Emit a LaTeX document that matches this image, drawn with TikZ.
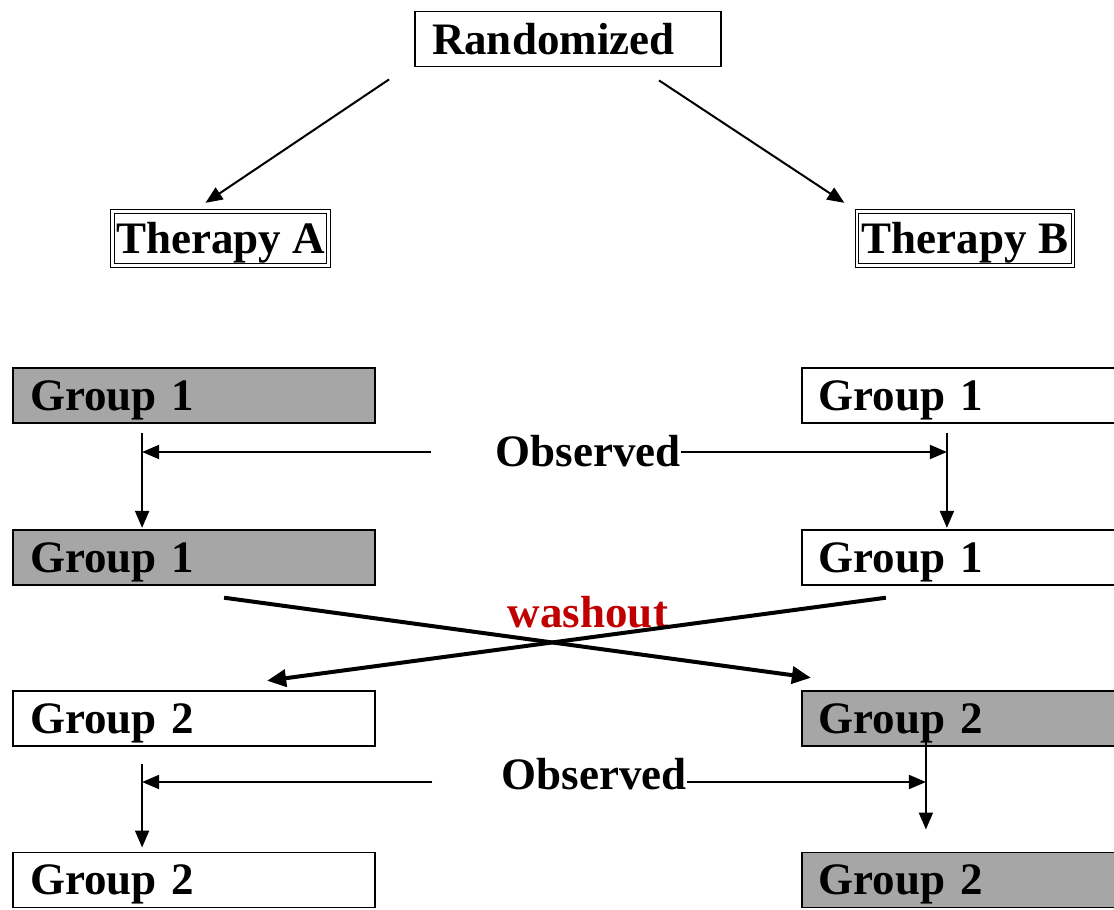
\documentclass[tikz,border=0pt]{standalone}
\usepackage{fontspec}
\setmainfont{Liberation Serif}
\usepackage{tikz}
\usetikzlibrary{arrows.meta,positioning,calc}
\definecolor{xoshade}{HTML}{A6A6A6}
\definecolor{xored}{HTML}{C00000}
\newcommand{\xofont}{\fontsize{45}{50}\selectfont\bfseries}
\tikzset{
  box/.style     = {rectangle, draw, line width=1.8pt, align=left, text width=328pt,
                    inner xsep=17pt, inner ysep=0pt, minimum height=55pt,
                    text height=38pt, text depth=8pt, font=\xofont},
  shaded/.style  = {box, fill=xoshade},
  plain/.style   = {box, fill=white},
  therapy/.style = {rectangle, draw, line width=1.3pt, double, double distance=2.2pt,
                    minimum width=216pt, minimum height=54pt, inner sep=0pt,
                    text height=38pt, text depth=8pt, font=\xofont},
  lbl/.style     = {font=\xofont, inner sep=0pt},
  flow/.style    = {-{Triangle[length=17pt,width=14pt]}, line width=2pt},
  cross/.style   = {-{Triangle[length=19pt,width=17pt]}, line width=4pt},
}

\begin{document}
\begin{tikzpicture}[x=1pt,y=-1pt]
\useasboundingbox (0,0) rectangle (1114,910);
\clip (0,0) rectangle (1114,910);
\fill[white] (0,0) rectangle (1114,910);
\node[box, text width=272pt, fill=white] (rand) at (568,39) {Randomized};
\node[therapy] (tha) at (220.5,238.5) {Therapy A};
\node[therapy] (thb) at (965,238.5) {Therapy B};
\draw[flow] ([shift={(-25,12)}]rand.south west) -- ([shift={(-15,-8)}]tha.north);
\draw[flow] ([shift={(91,13)}]rand.south) -- ([shift={(-12,-8)}]thb.north west);
% the four rows of groups
\node[shaded] (l1) at (194,395.5) {Group 1};
\node[plain, right=425pt of l1] (r1) {Group 1};
\node[shaded, below=105pt of l1] (l2) {Group 1};
\node[plain, below=105pt of r1] (r2) {Group 1};
\node[plain, below=104pt of l2] (l3) {Group 2};
\node[shaded, below=104pt of r2] (r3) {Group 2};
\node[plain, below=105pt of l3] (l4) {Group 2};
\node[shaded, below=105pt of r3] (r4) {Group 2};
% first period
\node[lbl] (obs1) at (588,451) {Observed};
\coordinate (la) at ([shift={(130,9)}]l1.south west);
\coordinate (ra) at ([shift={(146,9)}]r1.south west);
\draw[flow] (la) -- ([shift={(130,-1)}]l2.north west);
\draw[flow] (ra) -- ([shift={(146,-1)}]r2.north west);
\draw[flow] ([shift={(-64,1)}]obs1.west) -- ($(obs1.west -| la)+(0,1)$);
\draw[flow] ([yshift=-1pt]obs1.east) -- ($(obs1.east -| ra)+(0,1)$);
% crossover
\node[lbl, text=xored] (wash) at (588,612) {washout};
\draw[cross] ([shift={(212,12)}]l2.south west) -- ([shift={(10,-12)}]r3.north west);
\draw[cross] ([shift={(85,12)}]r2.south west) -- ([shift={(255,-9)}]l3.north west);
% second period
\node[lbl] (obs2) at (594,774) {Observed};
\coordinate (lb) at ([shift={(130,17)}]l3.south west);
\coordinate (rb) at ([shift={(125,-24)}]r3.south west);
\draw[flow] (lb) -- ([shift={(130,-4)}]l4.north west);
\draw[flow] (rb) -- ([shift={(125,-22)}]r4.north west);
\draw[flow] ([shift={(-69,8)}]obs2.west) -- ($(obs2.west -| lb)+(0,8)$);
\draw[flow] ([yshift=-8pt]obs2.east) -- ($(obs2.east -| rb)+(0,8)$);
\end{tikzpicture}
\end{document}
